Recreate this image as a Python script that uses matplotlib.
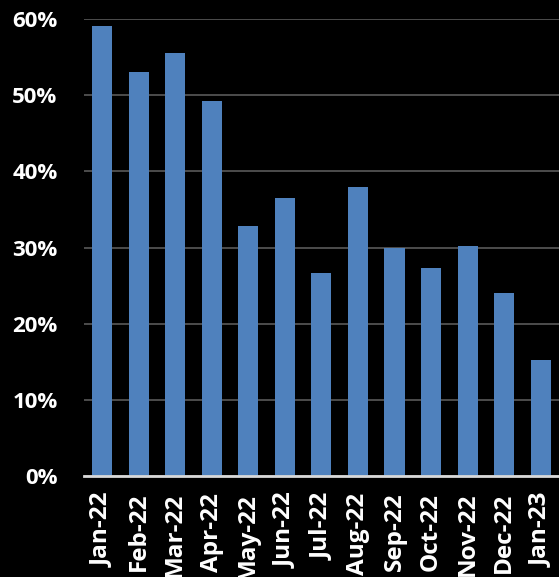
import matplotlib
matplotlib.use("Agg")
import matplotlib.pyplot as plt
from matplotlib.ticker import FuncFormatter

categories = ["Jan-22", "Feb-22", "Mar-22", "Apr-22", "May-22", "Jun-22", "Jul-22",
              "Aug-22", "Sep-22", "Oct-22", "Nov-22", "Dec-22", "Jan-23"]
values = [59.1, 53.1, 55.5, 49.2, 32.8, 36.5, 26.6, 37.9, 29.9, 27.3, 30.2, 24.0, 15.2]
yticks = [0, 10, 20, 30, 40, 50, 60]

plt.rcParams['font.family'] = ['Open Sans', 'DejaVu Sans']
fig = plt.figure(figsize=(5.59, 5.77), dpi=100, facecolor='black')
ax = fig.add_axes([0.150, 0.175, 0.85, 0.792])
ax.set_facecolor('black')

x = range(len(categories))
ax.bar(x, values, width=0.55, color='#4F81BD', zorder=3)
ax.set_xlim(-0.5, len(categories) - 0.5)
ax.set_ylim(0, 60)
ax.set_yticks(yticks)
ax.yaxis.set_major_formatter(FuncFormatter(lambda v, p: f"{v:.0f}%"))
ax.grid(axis='y', color='#595959', linewidth=1.2, zorder=0)
ax.set_xticks(list(x))
ax.set_xticklabels(categories, rotation=90)
for lab in ax.get_yticklabels():
    lab.set_color('white')
    lab.set_fontweight('bold')
    lab.set_fontsize(16)
for lab in ax.get_xticklabels():
    lab.set_color('white')
    lab.set_fontweight('bold')
    lab.set_fontsize(17.5)
ax.tick_params(axis='both', length=0)
ax.tick_params(axis='y', pad=19)
ax.tick_params(axis='x', pad=12)
for s in ['top', 'right', 'left']:
    ax.spines[s].set_visible(False)
ax.spines['bottom'].set_color('#D9D9D9')
ax.spines['bottom'].set_linewidth(2)
ax.spines['bottom'].set_zorder(4)

fig.savefig('out.png', dpi=100, facecolor='black')
